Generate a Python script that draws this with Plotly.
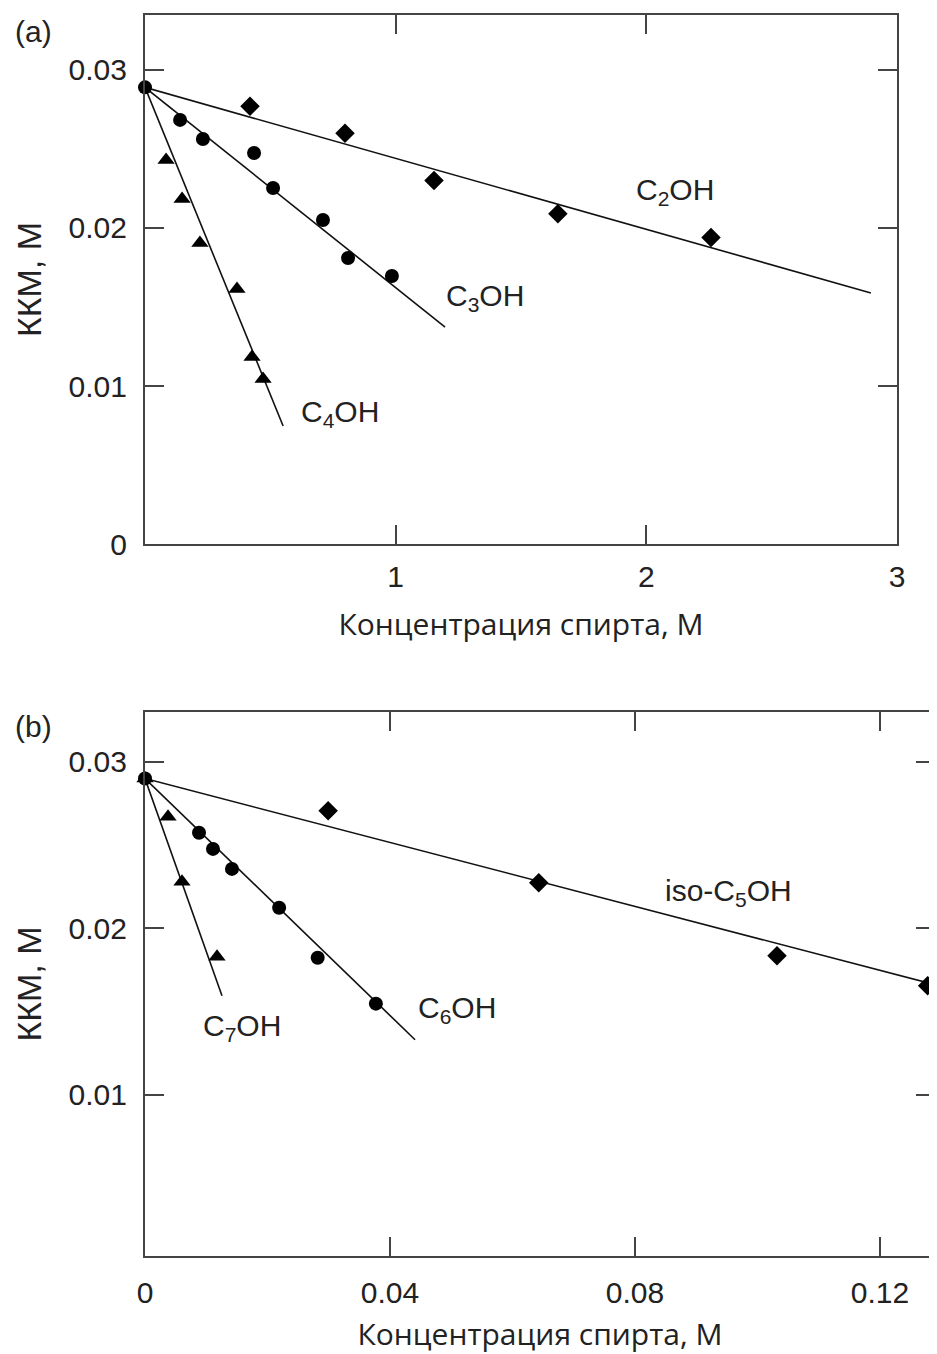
import plotly.graph_objects as go

# ---------------- Panel (a) data ----------------
a_c2_x = [0.419, 0.798, 1.153, 1.647, 2.258]
a_c2_y = [0.0277, 0.0260, 0.0230, 0.0209, 0.0194]
a_c3_x = [0.0, 0.140, 0.231, 0.435, 0.511, 0.710, 0.810, 0.985]
a_c3_y = [0.0289, 0.02684, 0.02563, 0.02475, 0.02253, 0.02051, 0.01810, 0.01696]
a_c4_x = [0.084, 0.148, 0.219, 0.367, 0.427, 0.471]
a_c4_y = [0.02430, 0.02184, 0.01905, 0.01614, 0.01184, 0.01044]
# fitted lines (start, end)
a_fit_c2_x = [0.0, 2.896]
a_fit_c2_y = [0.0289, 0.01589]
a_fit_c3_x = [0.0, 1.197]
a_fit_c3_y = [0.0289, 0.01373]
a_fit_c4_x = [0.0, 0.551]
a_fit_c4_y = [0.0289, 0.00747]
a_xticks = [1, 2, 3]
a_xticktext = ["1", "2", "3"]
a_yticks = [0, 0.01, 0.02, 0.03]
a_yticktext = ["0", "0.01", "0.02", "0.03"]

# ---------------- Panel (b) data ----------------
b_c5_x = [0.0299, 0.0643, 0.1032, 0.1278]
b_c5_y = [0.02706, 0.02273, 0.01835, 0.01655]
b_c6_x = [0.0, 0.00882, 0.0111, 0.0142, 0.0219, 0.0282, 0.0377]
b_c6_y = [0.0290, 0.02574, 0.02477, 0.02357, 0.02123, 0.01823, 0.01547]
b_c7_x = [0.0, 0.00376, 0.00604, 0.01176]
b_c7_y = [0.0290, 0.02670, 0.02279, 0.01829]
b_fit_c5_x = [0.0, 0.129]
b_fit_c5_y = [0.0290, 0.01661]
b_fit_c6_x = [0.0, 0.0441]
b_fit_c6_y = [0.0290, 0.01330]
b_fit_c7_x = [0.0, 0.01257]
b_fit_c7_y = [0.0290, 0.01595]
b_xticks = [0, 0.04, 0.08, 0.12]
b_xticktext = ["0", "0.04", "0.08", "0.12"]
b_yticks = [0.01, 0.02, 0.03]
b_yticktext = ["0.01", "0.02", "0.03"]

# page body has an 8px margin, so the figure is made smaller and positions compensated
OFF = 8
W, H = 937 - OFF, 1354 - OFF


def px_x(p):
    return (p - OFF) / W


def px_y(p):
    return 1 - (p - OFF) / H


TICKFONT = dict(family="Liberation Sans, Arial, sans-serif", size=30, color="#222")
TITLEFONT_X = dict(family="Open Sans, sans-serif", size=30, color="#222")
TITLEFONT_Y = dict(family="Liberation Sans, Arial, sans-serif", size=34, color="#222")
LBLFONT = dict(family="Liberation Sans, Arial, sans-serif", size=30, color="#222")
PANELFONT = dict(family="Liberation Sans, Arial, sans-serif", size=30, color="#222")
AXCOL = "#444"

fig = go.Figure()


def line(x, y, xa, ya):
    fig.add_trace(go.Scatter(x=x, y=y, mode="lines", line=dict(color="#111", width=1.6),
                             xaxis=xa, yaxis=ya, showlegend=False, hoverinfo="skip"))


def pts(x, y, sym, size, xa, ya, name):
    fig.add_trace(go.Scatter(x=x, y=y, mode="markers", name=name,
                             marker=dict(symbol=sym, size=size, color="#000"),
                             xaxis=xa, yaxis=ya, showlegend=False, cliponaxis=False))


# panel a
line(a_fit_c2_x, a_fit_c2_y, "x", "y")
line(a_fit_c3_x, a_fit_c3_y, "x", "y")
line(a_fit_c4_x, a_fit_c4_y, "x", "y")
pts(a_c4_x, a_c4_y, "triangle-up", 15, "x", "y", "C4OH")
pts(a_c2_x, a_c2_y, "diamond", 15, "x", "y", "C2OH")
pts(a_c3_x, a_c3_y, "circle", 14, "x", "y", "C3OH")

# panel b
line(b_fit_c5_x, b_fit_c5_y, "x2", "y2")
line(b_fit_c6_x, b_fit_c6_y, "x2", "y2")
line(b_fit_c7_x, b_fit_c7_y, "x2", "y2")
pts(b_c7_x, b_c7_y, "triangle-up", 15, "x2", "y2", "C7OH")
pts(b_c5_x, b_c5_y, "diamond", 15, "x2", "y2", "iso-C5OH")
pts(b_c6_x, b_c6_y, "circle", 14, "x2", "y2", "C6OH")

common_ax = dict(showline=True, linecolor=AXCOL, linewidth=2.2, mirror="ticks",
                 ticks="inside", ticklen=19, tickwidth=2, tickcolor=AXCOL,
                 showgrid=False, zeroline=False, tickfont=TICKFONT, automargin=False)

fig.update_layout(
    template="none",
    width=W, height=H, margin=dict(l=0, r=0, t=0, b=0, autoexpand=False),
    paper_bgcolor="white", plot_bgcolor="white",
    xaxis=dict(domain=[px_x(145), px_x(897)], range=[0, 3], anchor="y",
               tickvals=a_xticks, ticktext=a_xticktext, ticklabelstandoff=5,
               title=dict(text="Концентрация спирта, М", font=TITLEFONT_X, standoff=22),
               **common_ax),
    yaxis=dict(domain=[px_y(544), px_y(15)], range=[0, 0.03348], anchor="x",
               tickvals=a_yticks, ticktext=a_yticktext, ticklabelstandoff=10,
               title=dict(text="ККМ, М", font=TITLEFONT_Y, standoff=17),
               **common_ax),
    xaxis2=dict(domain=[px_x(145), px_x(935)], range=[0, 0.129], anchor="y2",
                tickvals=b_xticks, ticktext=b_xticktext, ticklabelstandoff=9,
                title=dict(text="Концентрация спирта, М", font=TITLEFONT_X, standoff=16),
                **common_ax),
    yaxis2=dict(domain=[px_y(1256), px_y(712)], range=[0.0003, 0.0330], anchor="x2",
                tickvals=b_yticks, ticktext=b_yticktext, ticklabelstandoff=10,
                title=dict(text="ККМ, М", font=TITLEFONT_Y, standoff=17),
                **common_ax),
)

ann = [
    dict(text="C<sub>2</sub>OH", x=2.114, y=0.02228, xref="x", yref="y"),
    dict(text="C<sub>3</sub>OH", x=1.356, y=0.01557, xref="x", yref="y"),
    dict(text="C<sub>4</sub>OH", x=0.778, y=0.00829, xref="x", yref="y"),
    dict(text="iso-C<sub>5</sub>OH", x=0.0953, y=0.02213, xref="x2", yref="y2"),
    dict(text="C<sub>6</sub>OH", x=0.0509, y=0.01510, xref="x2", yref="y2"),
    dict(text="C<sub>7</sub>OH", x=0.0159, y=0.01402, xref="x2", yref="y2"),
]
for a in ann:
    fig.add_annotation(showarrow=False, font=LBLFONT, xanchor="center", yanchor="middle", **a)

fig.add_annotation(text="(a)", x=px_x(33), y=px_y(31), xref="paper", yref="paper",
                   xanchor="center", yanchor="middle", showarrow=False, font=PANELFONT)
fig.add_annotation(text="(b)", x=px_x(33), y=px_y(726), xref="paper", yref="paper",
                   xanchor="center", yanchor="middle", showarrow=False, font=PANELFONT)

fig.write_html("out.html")
